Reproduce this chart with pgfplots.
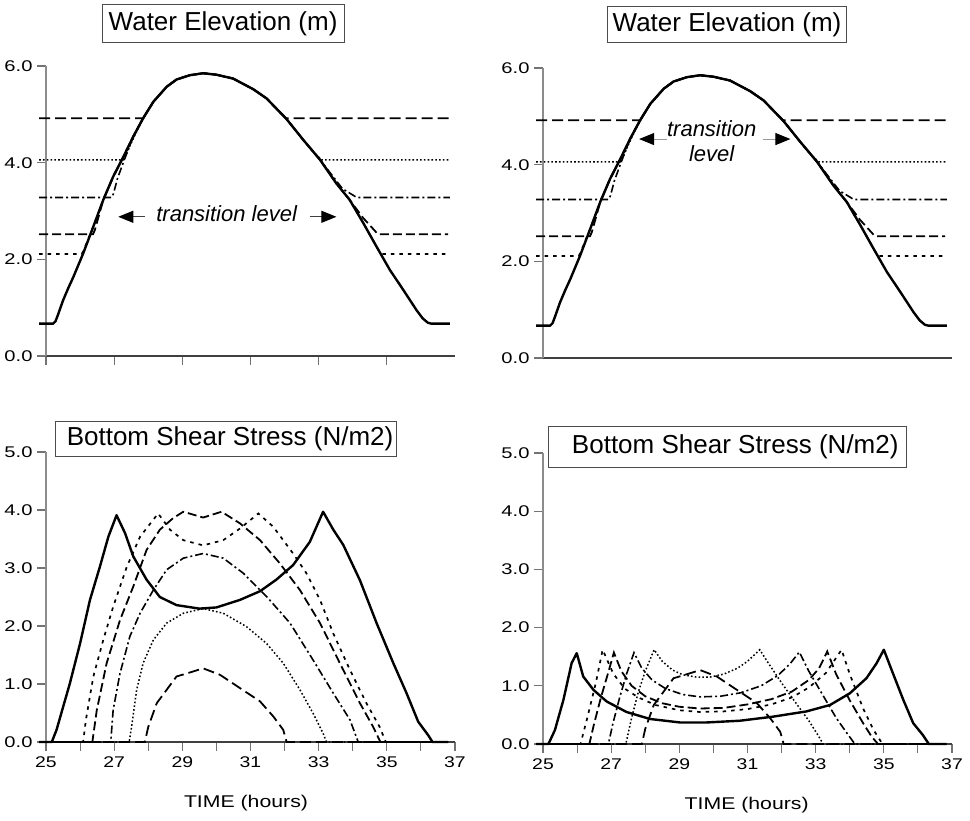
\documentclass[border=0pt]{standalone}
\usepackage{graphicx}
\usepackage{pgfplots}
\pgfplotsset{compat=1.18}
\usepackage{pgfplotstable}
\usepackage{fontspec}
\setmainfont{Liberation Sans}
\usetikzlibrary{arrows.meta}

% ---------- water elevation (m) ----------
\pgfplotstableread{
t v
24.80 0.67
25.21 0.67
25.28 0.72
25.35 0.85
25.50 1.15
25.65 1.40
25.80 1.63
26.09 2.12
26.39 2.68
26.68 3.23
26.97 3.71
27.27 4.12
27.56 4.54
27.85 4.92
28.15 5.26
28.54 5.57
28.83 5.72
29.22 5.81
29.61 5.85
30.00 5.82
30.49 5.74
31.08 5.52
31.47 5.33
32.06 4.90
32.55 4.47
33.04 4.06
33.52 3.57
33.91 3.23
34.31 2.75
34.70 2.26
35.09 1.78
35.48 1.37
35.87 0.95
36.05 0.78
36.20 0.69
36.30 0.67
36.85 0.67
}\elev

% transition level 4.92 m
\pgfplotstableread{
t v
24.80 4.92
27.86 4.92
27.95 5.03
28.15 5.26
28.54 5.57
28.83 5.72
29.22 5.81
29.61 5.85
30.00 5.82
30.49 5.74
31.08 5.52
31.47 5.33
32.04 4.92
36.85 4.92
}\lvlA

% transition level 4.06 m
\pgfplotstableread{
t v
24.80 4.06
27.27 4.06
27.33 4.14
27.60 4.56
27.88 4.95
28.15 5.26
28.54 5.57
28.83 5.72
29.22 5.81
29.61 5.85
30.00 5.82
30.49 5.74
31.08 5.52
31.47 5.33
32.06 4.90
32.55 4.47
32.85 4.22
33.08 4.06
36.85 4.06
}\lvlB

% transition level 3.28 m
\pgfplotstableread{
t v
24.80 3.28
26.93 3.28
26.98 3.36
27.10 3.68
27.32 4.10
27.56 4.54
27.85 4.92
28.15 5.26
28.54 5.57
28.83 5.72
29.22 5.81
29.61 5.85
30.00 5.82
30.49 5.74
31.08 5.52
31.47 5.33
32.06 4.90
32.55 4.47
33.04 4.06
33.25 3.87
33.70 3.46
34.05 3.31
34.11 3.28
36.85 3.28
}\lvlC

% transition level 2.52 m
\pgfplotstableread{
t v
24.80 2.52
26.38 2.52
26.43 2.60
26.55 2.90
26.68 3.23
26.97 3.71
27.27 4.12
27.56 4.54
27.85 4.92
28.15 5.26
28.54 5.57
28.83 5.72
29.22 5.81
29.61 5.85
30.00 5.82
30.49 5.74
31.08 5.52
31.47 5.33
32.06 4.90
32.55 4.47
33.04 4.06
33.52 3.57
33.91 3.23
34.30 2.86
34.70 2.55
34.75 2.52
36.80 2.52
}\lvlD

% transition level 2.11 m
\pgfplotstableread{
t v
24.80 2.11
26.05 2.11
26.10 2.18
26.39 2.68
26.68 3.23
26.97 3.71
27.27 4.12
27.56 4.54
27.85 4.92
28.15 5.26
28.54 5.57
28.83 5.72
29.22 5.81
29.61 5.85
30.00 5.82
30.49 5.74
31.08 5.52
31.47 5.33
32.06 4.90
32.55 4.47
33.04 4.06
33.52 3.57
33.91 3.23
34.31 2.75
34.70 2.26
34.80 2.14
34.84 2.11
36.80 2.11
}\lvlE

% ---------- bottom shear stress (N/m2), first case ----------
\pgfplotstableread{
t v
24.80 0
25.17 0
25.31 0.21
25.50 0.60
25.70 1.01
26.00 1.70
26.29 2.45
26.58 3.02
26.83 3.54
27.07 3.91
27.32 3.60
27.56 3.20
27.95 2.80
28.34 2.50
28.83 2.36
29.50 2.30
30.00 2.32
30.69 2.45
31.28 2.60
31.76 2.80
32.25 3.05
32.74 3.45
33.13 3.97
33.43 3.66
33.72 3.40
34.21 2.79
34.70 2.05
35.19 1.36
35.58 0.84
35.92 0.35
36.21 0.12
36.34 0
36.80 0
}\tauS

\pgfplotstableread{
t v
24.80 0
27.90 0
28.00 0.26
28.25 0.67
28.54 0.90
28.83 1.13
29.12 1.18
29.61 1.27
30.10 1.16
30.69 0.93
31.28 0.70
31.67 0.44
31.96 0.21
32.06 0
36.80 0
}\tauA

\pgfplotstableread{
t v
24.80 0
27.44 0
27.51 0.26
27.66 0.90
27.85 1.36
28.15 1.76
28.54 2.05
29.03 2.22
29.61 2.30
30.20 2.22
30.88 1.99
31.47 1.70
31.96 1.36
32.45 0.90
32.84 0.49
33.13 0.15
33.23 0
36.80 0
}\tauB

\pgfplotstableread{
t v
24.80 0
26.90 0
26.97 0.55
27.17 1.18
27.46 1.82
27.76 2.22
28.15 2.62
28.54 2.97
29.03 3.17
29.61 3.25
30.20 3.17
30.79 2.91
31.47 2.51
32.16 2.05
32.84 1.41
33.43 0.84
33.92 0.38
34.16 0
36.80 0
}\tauC

\pgfplotstableread{
t v
24.80 0
26.36 0
26.49 0.55
26.78 1.36
27.17 2.10
27.56 2.68
27.95 3.31
28.34 3.66
28.73 3.86
29.03 3.97
29.61 3.87
30.15 3.97
30.69 3.77
31.28 3.48
31.86 3.08
32.45 2.62
33.04 2.05
33.62 1.36
34.21 0.67
34.60 0.26
34.81 0
36.80 0
}\tauD

\pgfplotstableread{
t v
24.80 0
26.09 0
26.17 0.38
26.39 1.13
26.68 1.76
26.97 2.33
27.37 3.02
27.76 3.54
28.29 3.94
28.64 3.66
29.03 3.48
29.61 3.39
30.20 3.48
30.69 3.68
31.23 3.94
31.67 3.71
32.25 3.25
32.64 2.91
33.04 2.45
33.43 1.87
33.92 1.24
34.40 0.67
34.79 0.26
34.97 0
36.80 0
}\tauE

% ---------- bottom shear stress (N/m2), second case ----------
\pgfplotstableread{
t v
24.80 0
25.16 0
25.35 0.24
25.60 0.76
25.84 1.39
25.99 1.56
26.18 1.16
26.48 0.93
26.87 0.73
27.45 0.55
28.14 0.43
29.02 0.37
29.80 0.37
30.78 0.40
31.75 0.47
32.73 0.56
33.42 0.67
34.00 0.87
34.49 1.13
34.79 1.39
35.00 1.62
35.23 1.27
35.57 0.76
35.86 0.36
36.15 0.15
36.32 0
36.84 0
}\rtauS

\pgfplotstableread{
t v
24.80 0
27.43 0
27.60 0.45
27.80 0.90
28.00 1.25
28.26 1.62
28.50 1.42
28.80 1.27
29.10 1.19
29.50 1.15
29.90 1.15
30.30 1.20
30.70 1.30
31.00 1.42
31.36 1.62
31.60 1.40
32.00 1.05
32.40 0.72
32.80 0.40
33.10 0.12
33.22 0
36.80 0
}\rtauB

\pgfplotstableread{
t v
24.80 0
26.92 0
27.05 0.35
27.25 0.80
27.45 1.20
27.67 1.57
27.90 1.30
28.20 1.10
28.60 0.95
29.10 0.85
29.60 0.81
30.20 0.82
30.80 0.88
31.40 1.00
31.90 1.18
32.25 1.38
32.52 1.58
32.80 1.25
33.20 0.85
33.60 0.45
33.90 0.20
34.15 0
36.80 0
}\rtauC

\pgfplotstableread{
t v
24.80 0
26.36 0
26.50 0.35
26.70 0.80
26.90 1.20
27.08 1.57
27.30 1.25
27.60 1.00
28.00 0.82
28.50 0.70
29.00 0.64
29.60 0.61
30.30 0.62
31.00 0.68
31.70 0.77
32.30 0.90
32.80 1.10
33.10 1.30
33.34 1.59
33.60 1.20
34.00 0.75
34.40 0.35
34.65 0.12
34.83 0
36.80 0
}\rtauD

\pgfplotstableread{
t v
24.80 0
26.10 0
26.30 0.45
26.55 1.05
26.75 1.62
27.06 1.21
27.40 0.95
27.80 0.80
28.30 0.67
29.00 0.58
29.60 0.55
30.30 0.56
31.00 0.60
31.70 0.68
32.30 0.80
32.80 0.97
33.30 1.22
33.76 1.62
34.00 1.20
34.40 0.60
34.70 0.24
34.96 0
36.80 0
}\rtauE

\pgfplotsset{
  panel/.style={
    scale only axis, width=409pt, height=290pt,
    xmin=25, xmax=37, ymin=0,
    axis x line*=bottom, axis y line*=left,
    clip=false,
    tick align=outside,
    major tick length=9pt, minor tick length=9pt,
    x axis line style={black!75, line width=1.1pt},
    y axis line style={black!45, line width=1.1pt},
    tick style={black!55, line width=1.1pt},
    /pgf/number format/assume math mode=true,
    yticklabel={\scalebox{1.3}[1]{\fontsize{15.5}{17}\selectfont
      \pgfmathprintnumber[fixed,fixed zerofill,precision=1]{\tick}}},
    xticklabel={\scalebox{1.25}[1]{\fontsize{15.5}{17}\selectfont
      \pgfmathprintnumber[fixed,precision=0]{\tick}}},
    tick label style={black},
    yticklabel style={xshift=-1pt},
    xticklabel style={yshift=-2pt},
  },
  shearpanel/.style={
    panel, ymax=5, ytick={0,1,2,3,4,5},
    xtick={25,27,...,37}, minor xtick={26,28,...,36},
    xlabel={\scalebox{1.25}[1]{TIME (hours)}},
    xlabel style={font=\fontsize{17}{20}\selectfont, anchor=center, yshift=-61pt},
  },
  solidc/.style={black, line width=2.4pt, line join=round},
  longdash/.style={black, line width=1.8pt, dash pattern=on 11pt off 5pt},
  meddash/.style={black, line width=1.8pt, dash pattern=on 9pt off 4pt},
  dashdot/.style={black, line width=1.6pt, dash pattern=on 8pt off 3pt on 2pt off 3pt},
  finedot/.style={black, line width=1.5pt, dash pattern=on 1.6pt off 2.2pt},
  coarsedot/.style={black, line width=1.7pt, dash pattern=on 3.5pt off 5pt},
}
\tikzset{
  titlebox/.style={draw=black!70, line width=1pt, inner sep=0pt},
  titletext/.style={font=\fontsize{26}{30}\selectfont},
  ann/.style={font=\itshape\fontsize{22}{25}\selectfont, align=center},
  pointer/.style={line width=1pt, -{Triangle[length=15pt,width=12pt,color=black]}},
}

\begin{document}
\begin{tikzpicture}[x=1pt, y=1pt]
\path[use as bounding box] (0,0) rectangle (970,820);

% ---- water elevation, first case ----
\begin{axis}[panel, at={(46pt,464pt)}, anchor=south west,
  ymax=6, ytick={0,2,4,6}, xtick={25,27,...,35}, xticklabels={}]
  \addplot[longdash]  table[x=t,y=v] {\lvlA};
  \addplot[finedot]   table[x=t,y=v] {\lvlB};
  \addplot[dashdot]   table[x=t,y=v] {\lvlC};
  \addplot[meddash]   table[x=t,y=v] {\lvlD};
  \addplot[coarsedot] table[x=t,y=v] {\lvlE};
  \addplot[solidc]    table[x=t,y=v] {\elev};
  \node[titlebox, minimum width=242pt, minimum height=38pt]
    at (axis description cs:0.433,1.145) {};
  \node[titletext] at (axis description cs:0.433,1.145) {Water Elevation (m)};
  \draw[pointer, black!75] (axis cs:27.90,2.88) -- (axis cs:27.12,2.88);
  \draw[pointer, black!75] (axis cs:32.74,2.88) -- (axis cs:33.52,2.88);
  \node[ann] at (axis cs:30.30,2.95) {transition level};
\end{axis}

% ---- water elevation, second case ----
\begin{axis}[panel, at={(543pt,462pt)}, anchor=south west,
  ymax=6, ytick={0,2,4,6}, xtick=\empty]
  \addplot[longdash]  table[x=t,y=v] {\lvlA};
  \addplot[finedot]   table[x=t,y=v] {\lvlB};
  \addplot[dashdot]   table[x=t,y=v] {\lvlC};
  \addplot[meddash]   table[x=t,y=v] {\lvlD};
  \addplot[coarsedot] table[x=t,y=v] {\lvlE};
  \addplot[solidc]    table[x=t,y=v] {\elev};
  \node[titlebox, minimum width=239pt, minimum height=36pt]
    at (axis description cs:0.45,1.149) {};
  \node[titletext] at (axis description cs:0.45,1.149) {Water Elevation (m)};
  \draw[pointer, black!40] (axis cs:28.63,4.53) -- (axis cs:27.82,4.53);
  \draw[pointer, black!40] (axis cs:31.46,4.53) -- (axis cs:32.26,4.53);
  \node[ann] at (axis cs:29.95,4.49) {transition\\level};
\end{axis}

% ---- bottom shear stress, first case ----
\begin{axis}[shearpanel, at={(46pt,78pt)}, anchor=south west,
  xlabel style={at={(axis description cs:0.489,0)}}]
  \addplot[longdash]  table[x=t,y=v] {\tauA};
  \addplot[finedot]   table[x=t,y=v] {\tauB};
  \addplot[dashdot]   table[x=t,y=v] {\tauC};
  \addplot[meddash]   table[x=t,y=v] {\tauD};
  \addplot[coarsedot] table[x=t,y=v] {\tauE};
  \addplot[solidc]    table[x=t,y=v] {\tauS};
  \node[titlebox, minimum width=341pt, minimum height=35pt]
    at (axis description cs:0.439,1.044) {};
  \node[titletext, xshift=4.5pt] at (axis description cs:0.439,1.044)
    {Bottom Shear Stress (N/m2)};
\end{axis}

% ---- bottom shear stress, second case ----
\begin{axis}[shearpanel, at={(543pt,76pt)}, anchor=south west, height=291pt,
  xlabel style={at={(axis description cs:0.498,0)}}]
  \addplot[longdash]  table[x=t,y=v] {\tauA};
  \addplot[finedot]   table[x=t,y=v] {\rtauB};
  \addplot[dashdot]   table[x=t,y=v] {\rtauC};
  \addplot[meddash]   table[x=t,y=v] {\rtauD};
  \addplot[coarsedot] table[x=t,y=v] {\rtauE};
  \addplot[solidc]    table[x=t,y=v] {\rtauS};
  \node[titlebox, minimum width=358pt, minimum height=41.7pt]
    at (axis description cs:0.451,1.021) {};
  \node[titletext, xshift=7.8pt] at (axis description cs:0.451,1.021)
    {Bottom Shear Stress (N/m2)};
\end{axis}
\end{tikzpicture}
\end{document}
